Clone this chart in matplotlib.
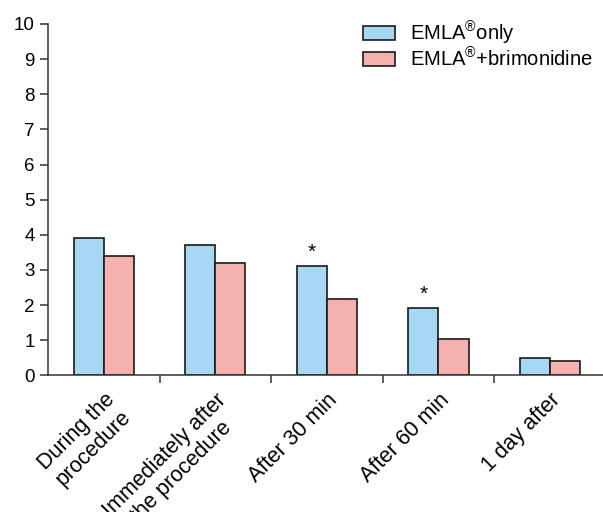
import numpy as np
import matplotlib
matplotlib.use('Agg')
import matplotlib.pyplot as plt

plt.rcParams['font.family'] = ['Liberation Sans', 'DejaVu Sans']
plt.rcParams['mathtext.fontset'] = 'custom'
plt.rcParams['mathtext.rm'] = 'Liberation Sans'
plt.rcParams['mathtext.it'] = 'Liberation Sans'

categories = ['During the\nprocedure', 'Immediately after\nthe procedure',
              'After 30 min', 'After 60 min', '1 day after']
emla_only = [3.9, 3.7, 3.12, 1.92, 0.5]
emla_brim = [3.4, 3.2, 2.17, 1.03, 0.41]
stars = [None, None, '*', '*', None]

blue = '#a6d8f4'
pink = '#f4b1ae'
edge = '#1a1a1a'

fig = plt.figure(figsize=(6.03, 5.12), dpi=100)
ax = fig.add_axes([48/603, 1-375.3/512, 560/603, (375.3-24)/512])

x = np.arange(len(categories))
w = 0.27
ax.bar(x-w/2, emla_only, w, color=blue, edgecolor=edge, lw=1.2,
       label=r'EMLA$^{\mathrm{®}}$only')
ax.bar(x+w/2, emla_brim, w, color=pink, edgecolor=edge, lw=1.2,
       label=r'EMLA$^{\mathrm{®}}$+brimonidine')
for i, s in enumerate(stars):
    if s:
        ax.text(x[i]-w/2, emla_only[i]+0.12, s, ha='center', va='bottom', fontsize=15)

ax.set_xlim(-0.5, 4.52)
ax.set_ylim(0, 10)
ax.set_yticks(range(0, 11))
ax.set_xticks(x+0.5)
ax.set_xticklabels([])
ax.set_xticks(x, minor=True)
ax.set_xticklabels(categories, minor=True, rotation=45, ha='right', va='top',
                   rotation_mode='anchor', multialignment='center')
ax.tick_params(axis='x', which='minor', length=0, pad=10, labelsize=15.5)
ax.tick_params(axis='x', which='major', direction='out', length=6, width=1.1, color='#333333')
ax.tick_params(axis='y', direction='out', length=6, width=1.1, color='#333333', labelsize=13.5)
for side in ['top', 'right']:
    ax.spines[side].set_visible(False)
for side in ['left', 'bottom']:
    ax.spines[side].set_linewidth(1.1)
    ax.spines[side].set_color('#333333')

ax.legend(loc='upper right', bbox_to_anchor=(1.005, 1.064), frameon=False, fontsize=14.5,
          handlelength=1.6, handleheight=0.68, handletextpad=0.75, labelspacing=0.02)

fig.savefig('out.png', dpi=100)
